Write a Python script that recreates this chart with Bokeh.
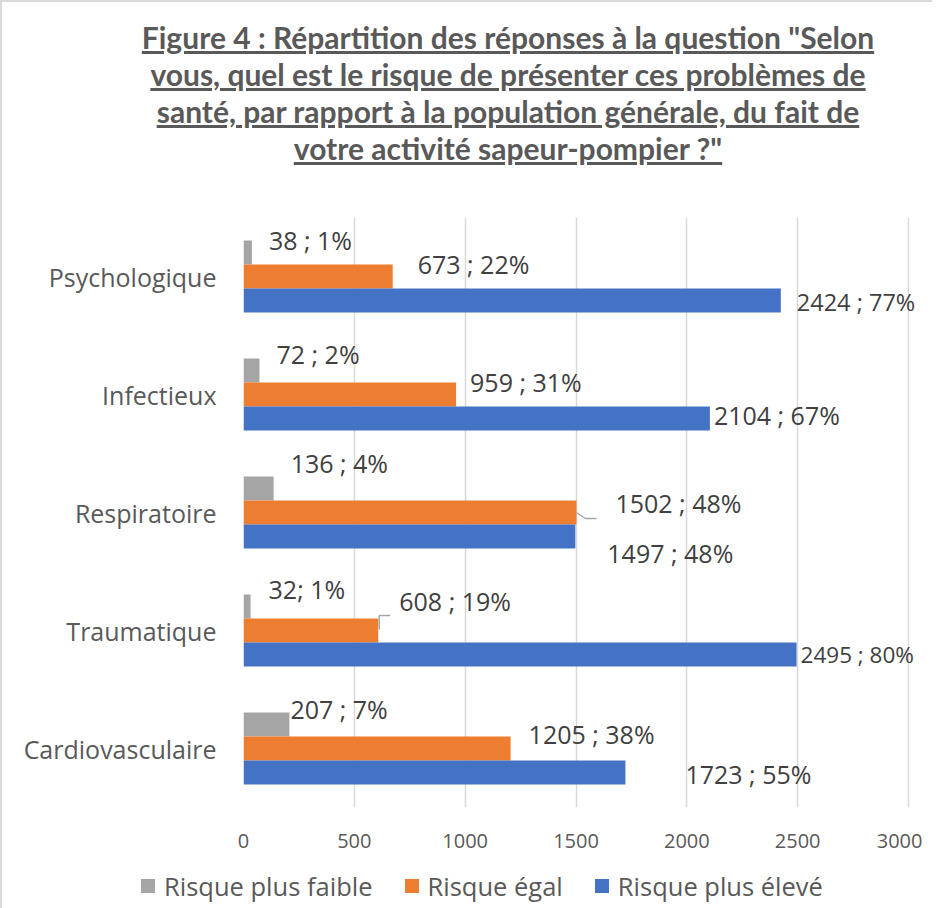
from bokeh.plotting import figure
from bokeh.models import (ColumnDataSource, LabelSet, Range1d, FixedTicker, Div)
from bokeh.layouts import column
from bokeh.embed import file_html
from bokeh.resources import INLINE
from bokeh.core.properties import value

# ---------------- data ----------------
categories = ["Cardiovasculaire", "Traumatique", "Respiratoire", "Infectieux", "Psychologique"]
series_names = ["Risque plus faible", "Risque égal", "Risque plus élevé"]
plus_faible = [207, 32, 136, 72, 38]
egal = [1205, 608, 1502, 959, 673]
plus_eleve = [1723, 2495, 1497, 2104, 2424]
labels_faible = ["207 ; 7%", "32; 1%", "136 ; 4%", "72 ; 2%", "38 ; 1%"]
labels_egal = ["1205 ; 38%", "608 ; 19%", "1502 ; 48%", "959 ; 31%", "673 ; 22%"]
labels_eleve = ["1723 ; 55%", "2495 ; 80%", "1497 ; 48%", "2104 ; 67%", "2424 ; 77%"]
x_ticks = [0, 500, 1000, 1500, 2000, 2500, 3000]
title_lines = [
    "Figure 4 : Répartition des réponses à la question \"Selon",
    "vous, quel est le risque de présenter ces problèmes de",
    "santé, par rapport à la population générale, du fait de",
    "votre activité sapeur-pompier ?\"",
]

# ---------------- styling ----------------
colors = ["#a5a5a5", "#ed7d31", "#4472c4"]
FONT = "Open Sans"
bar_h = 0.2034
bar_shift = [bar_h, 0.0, -bar_h]
# label placement (screen px) relative to bar end / bar centre
lab_dx = [[1, 18, 17, 17, 17], [18, 21, 39, 14, 25], [60, 4, 32, 4, 16]]
lab_dy = [[15, 17, 25, 16, 12], [15, 30, 10, 13, 13], [-1, 0, -16, 4, -1]]
lab_fs = [["25px"] * 5, ["25px"] * 5, ["25px", "22.5px", "25px", "25px", "23.5px"]]

FIG_W = 920
BORDER_L = 241
FRAME_W = FIG_W - BORDER_L
PX_PER_UNIT_X = 665.0 / 3000.0
X_END = FRAME_W / PX_PER_UNIT_X
PX_PER_UNIT_Y = 118.0

p = figure(width=FIG_W, height=664, x_range=Range1d(0, X_END), y_range=Range1d(0, 5),
           output_backend="svg", toolbar_location=None,
           min_border_left=BORDER_L, min_border_right=0, min_border_top=25,
           min_border_bottom=49)
p.outline_line_color = None
p.background_fill_color = "white"
p.border_fill_color = "white"

centers = [i + 0.5 for i in range(len(categories))]
all_vals = [plus_faible, egal, plus_eleve]
all_labels = [labels_faible, labels_egal, labels_eleve]
for k in range(3):
    ys = [c + bar_shift[k] for c in centers]
    src = ColumnDataSource(dict(y=ys, v=all_vals[k], t=all_labels[k],
                                dx=lab_dx[k], dy=lab_dy[k], fs=lab_fs[k]))
    p.hbar(y="y", left=0, right="v", height=bar_h, source=src,
           fill_color=colors[k], line_color=None, name=series_names[k])
    ls = LabelSet(x="v", y="y", text="t", x_offset="dx", y_offset="dy", source=src,
                  text_font=value(FONT), text_font_size="fs", text_color="#404040",
                  text_baseline="middle", text_align="left")
    p.add_layout(ls)

# leader lines (Respiratoire & Traumatique "égal" labels)
i_r = categories.index("Respiratoire")
i_t = categories.index("Traumatique")
vr = egal[i_r]
vt = egal[i_t]
cy_r = centers[i_r]
cy_t = centers[i_t]
p.line(x=[vr, vr + 9 / PX_PER_UNIT_X, vr + 20 / PX_PER_UNIT_X],
       y=[cy_r, cy_r - 6 / PX_PER_UNIT_Y, cy_r - 6 / PX_PER_UNIT_Y],
       line_color="#a6a6a6", line_width=1.5)
p.line(x=[vt + 1 / PX_PER_UNIT_X, vt + 1 / PX_PER_UNIT_X, vt + 12 / PX_PER_UNIT_X],
       y=[cy_t + 1 / PX_PER_UNIT_Y, cy_t + 15 / PX_PER_UNIT_Y, cy_t + 15 / PX_PER_UNIT_Y],
       line_color="#a6a6a6", line_width=1.5)

# axes
p.xaxis.ticker = FixedTicker(ticks=x_ticks)
p.xaxis.axis_line_color = None
p.xaxis.major_tick_line_color = None
p.xaxis.minor_tick_line_color = None
p.xaxis.major_label_text_font = FONT
p.xaxis.major_label_text_font_size = "20px"
p.xaxis.major_label_text_color = "#595959"
p.xaxis.major_label_standoff = 20

p.yaxis.ticker = FixedTicker(ticks=centers)
p.yaxis.major_label_overrides = {c: name for c, name in zip(centers, categories)}
p.yaxis.axis_line_color = None
p.yaxis.major_tick_line_color = None
p.yaxis.minor_tick_line_color = None
p.yaxis.major_label_text_font = FONT
p.yaxis.major_label_text_font_size = "25px"
p.yaxis.major_label_text_color = "#595959"
p.yaxis.major_label_standoff = 21

p.xgrid.ticker = FixedTicker(ticks=x_ticks)
p.xgrid.grid_line_color = "#d9d9d9"
p.xgrid.grid_line_width = 1.5
p.ygrid.visible = False

# ---------------- title & legend (HTML) ----------------
title_html = ('<div style="font-family:Lato, sans-serif; font-weight:bold; font-size:30px; '
              'line-height:37px; color:#595959; text-align:center; text-decoration:underline; '
              'white-space:nowrap; padding-top:12px; position:relative; left:42px; width:918px;">'
              + "<br>".join(title_lines) + '</div>')
div = Div(text=title_html, width=920, height=180)

items_html = "".join(
    '<span style="display:inline-flex; align-items:center; margin-right:32px;">'
    f'<span style="display:inline-block; width:14px; height:14px; background:{c}; '
    'margin-right:9px;"></span>'
    f'<span>{name}</span></span>'
    for c, name in zip(colors, series_names))
legend_html = ('<div style="display:flex; align-items:center; height:50px; padding-left:134px; '
               'font-family:\'Open Sans\', sans-serif; font-size:25.5px; color:#595959; '
               'white-space:nowrap;">' + items_html + '</div>')
legend_div = Div(text=legend_html, width=920, height=50)

layout = column(div, p, legend_div, styles={"border-left": "2px solid #d9d9d9",
                                            "border-top": "2px solid #d9d9d9"})

open("out.html", "w").write(file_html(layout, INLINE))
